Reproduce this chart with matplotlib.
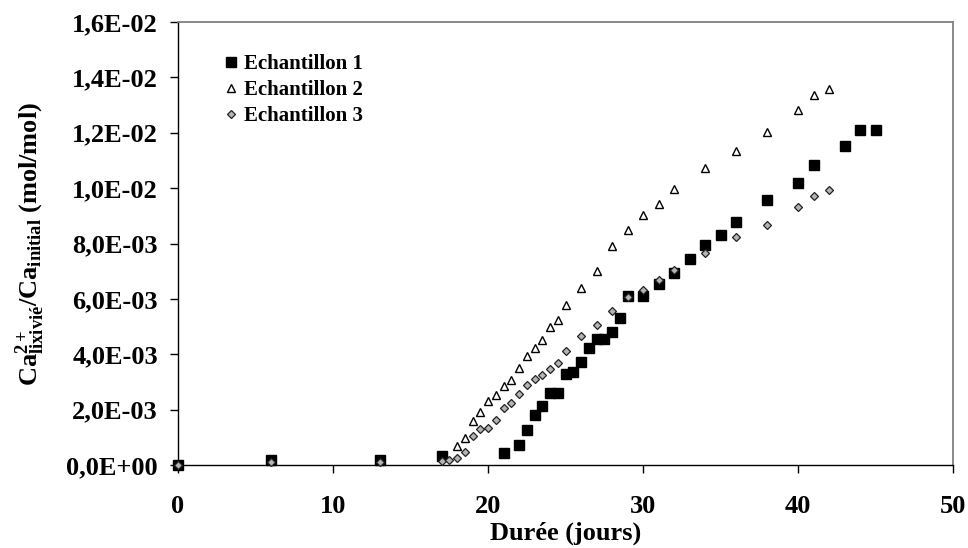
import matplotlib
matplotlib.use("Agg")
import matplotlib.pyplot as plt

# ---- data ----
x1 = [0, 6, 13, 17, 21, 22, 22.5, 23, 23.5, 24, 24.5, 25, 25.5, 26, 26.5, 27, 27.5,
      28, 28.5, 29, 30, 31, 32, 33, 34, 35, 36, 38, 40, 41, 43, 44, 45]
y1 = [0.0, 0.00019, 0.00019, 0.00031, 0.00045, 0.00073, 0.00125, 0.0018, 0.00213,
      0.00259, 0.00259, 0.00329, 0.00336, 0.00371, 0.00422, 0.00455, 0.00455,
      0.00481, 0.00532, 0.0061, 0.0061, 0.00655, 0.00695, 0.00745, 0.00796,
      0.0083, 0.00879, 0.00956, 0.01017, 0.01084, 0.01153, 0.01209, 0.01209]

x2 = [18, 18.5, 19, 19.5, 20, 20.5, 21, 21.5, 22, 22.5, 23, 23.5, 24, 24.5, 25,
      26, 27, 28, 29, 30, 31, 32, 34, 36, 38, 40, 41, 42]
y2 = [0.0007, 0.00098, 0.00159, 0.00191, 0.0023, 0.00253, 0.00286, 0.00307,
      0.00352, 0.00392, 0.00423, 0.00452, 0.00497, 0.00525, 0.00577, 0.00639,
      0.00702, 0.0079, 0.0085, 0.00903, 0.00944, 0.00997, 0.01073, 0.01135,
      0.01201, 0.01282, 0.01337, 0.01357]

x3 = [0, 6, 13, 17, 17.5, 18, 18.5, 19, 19.5, 20, 20.5, 21, 21.5, 22, 22.5, 23,
      23.5, 24, 24.5, 25, 26, 27, 28, 29, 30, 31, 32, 34, 36, 38, 40, 41, 42]
y3 = [0.0, 0.0001, 0.0001, 0.00013, 0.00017, 0.00025, 0.00048, 0.00105, 0.0013,
      0.00134, 0.00161, 0.00207, 0.00223, 0.00256, 0.00288, 0.00309, 0.00325,
      0.00345, 0.00369, 0.00413, 0.00466, 0.00505, 0.00557, 0.00605, 0.00633,
      0.00667, 0.00704, 0.00765, 0.00822, 0.00866, 0.00932, 0.00973, 0.00992]

labels = ["Echantillon 1", "Echantillon 2", "Echantillon 3"]
x_ticks = [0, 10, 20, 30, 40, 50]
y_ticks = [0.0, 0.002, 0.004, 0.006, 0.008, 0.010, 0.012, 0.014, 0.016]
y_tick_labels = ["0,0E+00", "2,0E-03", "4,0E-03", "6,0E-03", "8,0E-03",
                 "1,0E-02", "1,2E-02", "1,4E-02", "1,6E-02"]

# ---- style ----
plt.rcParams['font.family'] = ['Liberation Serif', 'DejaVu Serif']
plt.rcParams['font.weight'] = 'bold'
plt.rcParams['mathtext.fontset'] = 'custom'
plt.rcParams['mathtext.rm'] = 'Liberation Serif:bold'
plt.rcParams['mathtext.bf'] = 'Liberation Serif:bold'
plt.rcParams['mathtext.it'] = 'Liberation Serif:bold'

W, H = 968, 548
fig = plt.figure(figsize=(W / 100, H / 100), dpi=100)
ax = fig.add_axes([178 / W, 1 - 465 / H, (953 - 178) / W, (465 - 22) / H])

ax.plot(x1, y1, linestyle='none', marker='s', ms=6.6, mfc='black', mec='black',
        label=labels[0], clip_on=False, zorder=3)
ax.plot(x2, y2, linestyle='none', marker='^', ms=6.2, mfc='white', mec='black',
        mew=1.0, label=labels[1], clip_on=False, zorder=3)
ax.plot(x3, y3, linestyle='none', marker='D', ms=4.3, mfc='#b4b4b4', mec='#222222',
        mew=0.9, label=labels[2], clip_on=False, zorder=3)

ax.set_xlim(0, 50)
ax.set_ylim(0, 0.016)
ax.set_xticks(x_ticks)
ax.set_xticklabels([str(v) for v in x_ticks])
ax.set_yticks(y_ticks)
ax.set_yticklabels(y_tick_labels)

ax.tick_params(axis='x', direction='out', length=5.5, width=1.0, pad=16,
               labelsize=19, color='black')
ax.tick_params(axis='y', direction='out', length=5.5, width=1.0, pad=9,
               labelsize=19, color='black')
for lab in ax.get_xticklabels() + ax.get_yticklabels():
    lab.set_fontweight('bold')

for s in ['left', 'bottom']:
    ax.spines[s].set_color('black')
    ax.spines[s].set_linewidth(1.0)
for s in ['top', 'right']:
    ax.spines[s].set_color('#808080')
    ax.spines[s].set_linewidth(1.3)

ax.set_xlabel('Durée (jours)', fontsize=19, fontweight='bold', labelpad=3)
ax.set_ylabel(r'$\mathbf{Ca^{2+}_{lixivié}/Ca_{initial}}$ (mol/mol)',
              fontsize=19, fontweight='bold', labelpad=14)

leg = ax.legend(loc='upper left', bbox_to_anchor=(0.058, 0.928), frameon=False,
                fontsize=15, handlelength=0.8, handletextpad=0.2,
                labelspacing=0.3, borderpad=0, borderaxespad=0)
for t in leg.get_texts():
    t.set_fontweight('bold')

fig.savefig('out.png', dpi=100)
